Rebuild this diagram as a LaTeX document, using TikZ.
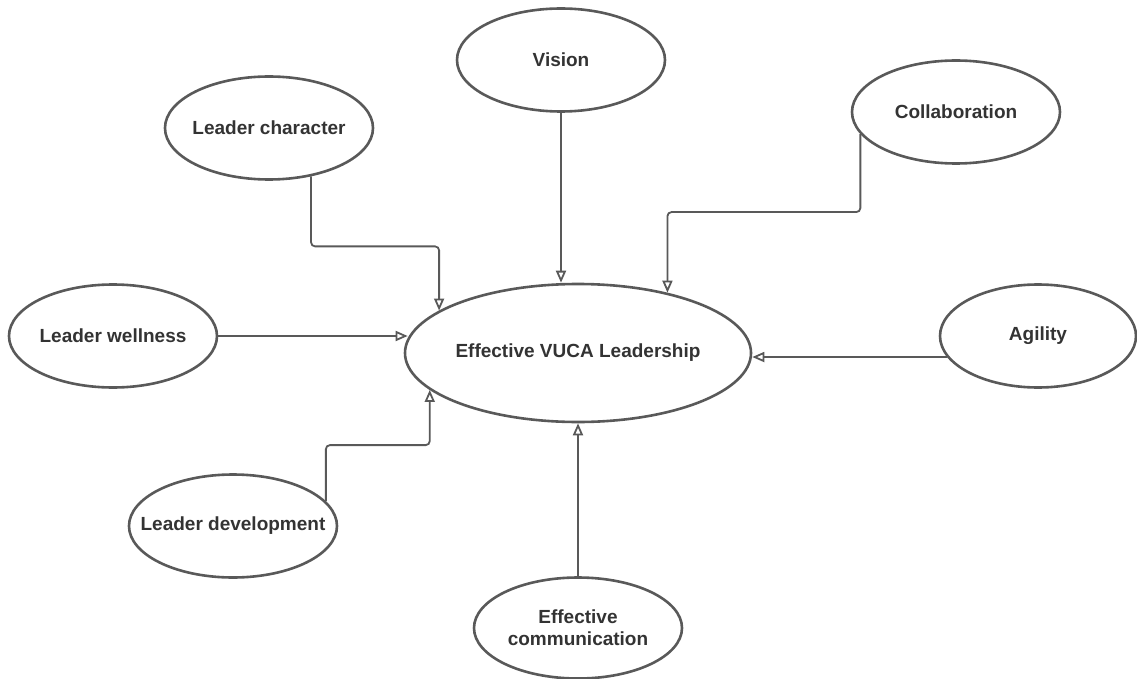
\documentclass[tikz,border=0pt]{standalone}
\usepackage{fontspec}
\setmainfont{Liberation Sans}
\usetikzlibrary{shapes.geometric,arrows.meta}
\definecolor{linegray}{HTML}{595959}
\definecolor{textgray}{HTML}{333333}
\begin{document}
\begin{tikzpicture}[x=1pt, y=-1pt,
    font=\fontsize{19}{22}\selectfont\bfseries,
    factor/.style={ellipse, draw=linegray, line width=2.6pt, text=textgray,
        inner xsep=-45pt, inner ysep=0pt, align=center,
        minimum width=208pt, minimum height=103pt},
    link/.style={draw=linegray, line width=1.8pt, rounded corners=4pt,
        -{Triangle[open, length=12pt, width=10pt]}}]
    \useasboundingbox (0,0) rectangle (1137,679);
    % Centre
    \node[factor, minimum width=346pt, minimum height=138pt] (vuca) at (578,353) {Effective VUCA Leadership};
    % Factors around it
    \node[factor] (vision) at (561,60) {Vision};
    \node[factor] (character) at (269,128) {Leader character};
    \node[factor] (collab) at (956,112) {Collaboration};
    \node[factor] (wellness) at (113,336) {Leader wellness};
    \node[factor, minimum width=196pt] (agility) at (1038,336) {Agility};
    \node[factor] (development) at (233,526) {Leader development};
    \node[factor, minimum height=101pt] (communication) at (578,628) {Effective\\communication};
    % Connectors
    \draw[link] (vision.south) -- (vision.south |- vuca.north);
    \draw[link] (character.-49) -- ++(0,70) -| (vuca.163);
    \draw[link] (collab.193) -- ++(0,78) -| (vuca.34);
    \draw[link] (wellness.east) -- (wellness.east -| vuca.175);
    \draw[link] (agility.193) -- (agility.193 -| vuca.east);
    \draw[link] (development.15) -- ++(0,-56) -| (vuca.194);
    \draw[link] (communication.north) -- (communication.north |- vuca.south);
\end{tikzpicture}
\end{document}
